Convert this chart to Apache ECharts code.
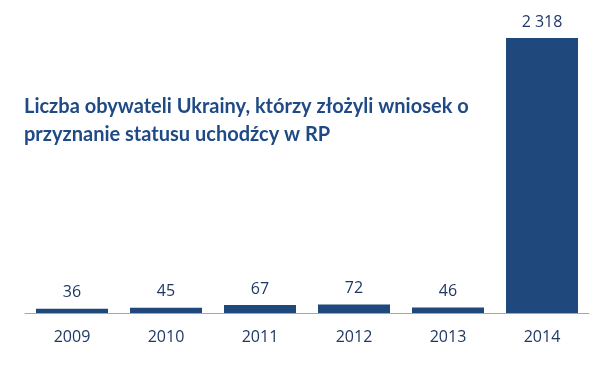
<!DOCTYPE html>
<html><head><meta charset="utf-8">
<script src="https://cdn.jsdelivr.net/npm/echarts@6/dist/echarts.min.js"></script>
<style>html,body{margin:0;padding:0;background:#fff}#c{width:600px;height:368px}</style>
</head><body><div id="c"></div>
<script>
const categories = ['2009','2010','2011','2012','2013','2014'];
const values = [36, 45, 67, 72, 46, 2318];
const titleLines = ['Liczba obywateli Ukrainy, którzy złożyli wniosek o', 'przyznanie statusu uchodźcy w RP'];

const chart = echarts.init(document.getElementById('c'), null, {renderer:'canvas'});
chart.setOption({
  animation:false,
  title:{
    text: titleLines.join('\n'),
    left: 19, top: 88,
    textStyle:{fontFamily:'Lato', fontWeight:'bold', fontSize:20, color:'#1F4A85', lineHeight:28}
  },
  grid:{left:25, right:11, top:38, bottom:55},
  xAxis:{
    type:'category', data:categories,
    axisLine:{lineStyle:{color:'#A6A6A6', width:1}},
    axisTick:{show:false},
    axisLabel:{fontFamily:'Open Sans', fontSize:16, color:'#1F3864', margin:16}
  },
  yAxis:{type:'value', min:0, max:2318, show:false, splitLine:{show:false}},
  series:[{
    type:'bar', data:values, barWidth:72,
    itemStyle:{color:'#1F497D'},
    label:{show:true, position:'top', distance:8, fontFamily:'Open Sans', fontSize:16, color:'#1F3864',
      formatter: p => String(p.value).replace(/\B(?=(\d{3})+(?!\d))/g,' ')}
  }]
});
</script></body></html>
